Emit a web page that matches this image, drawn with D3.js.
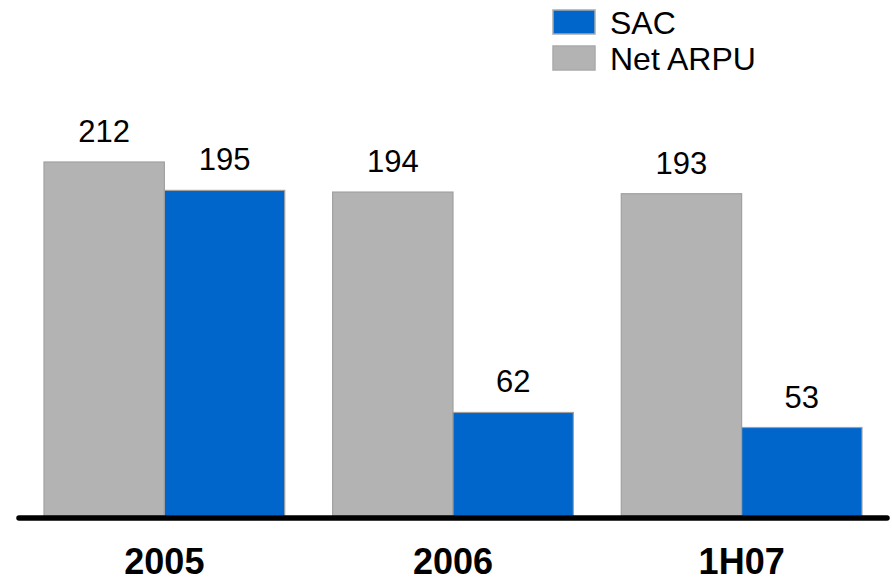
<!DOCTYPE html>
<html>
<head>
<meta charset="utf-8">
<script src="https://cdn.jsdelivr.net/npm/d3@7"></script>
<style>
  html, body { margin: 0; padding: 0; background: #fff; }
  svg { display: block; }
  text { font-family: "Liberation Sans", Arial, sans-serif; fill: #000; }
</style>
</head>
<body>
<svg id="chart" width="892" height="583"></svg>
<script>
// Periods on the x axis
const periods = ["2005", "2006", "1H07"];
// Series names (legend order, top to bottom)
const seriesNames = ["SAC", "Net ARPU"];
// Values per period
const netArpu = [212, 194, 193];
const sac = [195, 62, 53];

const colors = { "Net ARPU": "#b3b3b3", "SAC": "#0066cc" };

const svg = d3.select("#chart");

const x = d3.scaleBand()
  .domain(periods)
  .range([44, 862])
  .paddingInner(0.166)
  .paddingOuter(0);

// within a group: Net ARPU on the left, SAC on the right
const xs = d3.scaleBand()
  .domain(["Net ARPU", "SAC"])
  .range([0, x.bandwidth()])
  .padding(0);

const y = d3.scaleLinear()
  .domain([0, 212])
  .range([516, 162]);

const rows = periods.map((p, i) => ({
  period: p,
  bars: [
    { key: "Net ARPU", value: netArpu[i] },
    { key: "SAC", value: sac[i] }
  ]
}));

const groups = svg.append("g").selectAll("g")
  .data(rows)
  .join("g")
  .attr("transform", d => `translate(${x(d.period)},0)`);

groups.selectAll("rect")
  .data(d => d.bars)
  .join("rect")
  .attr("x", d => xs(d.key))
  .attr("y", d => y(d.value))
  .attr("width", xs.bandwidth())
  .attr("height", d => y(0) - y(d.value))
  .attr("fill", d => colors[d.key])
  .attr("stroke", "#a0a0a0")
  .attr("stroke-width", 1.2);

groups.selectAll("text.val")
  .data(d => d.bars)
  .join("text")
  .attr("class", "val")
  .attr("x", d => xs(d.key) + xs.bandwidth() / 2)
  .attr("y", d => y(d.value) - 20)
  .attr("text-anchor", "middle")
  .attr("font-size", 31)
  .text(d => d.value);

// baseline
svg.append("line")
  .attr("x1", 19).attr("x2", 887)
  .attr("y1", 518).attr("y2", 518)
  .attr("stroke", "#000")
  .attr("stroke-width", 5.5)
  .attr("stroke-linecap", "round");

// category labels
const xAxis = d3.axisBottom(x).tickSize(0).tickPadding(0);
const ax = svg.append("g")
  .attr("transform", "translate(0,574)")
  .call(xAxis);
ax.select(".domain").remove();
ax.selectAll("text")
  .attr("dy", 0)
  .attr("y", 0)
  .attr("font-size", 36)
  .attr("font-weight", "bold")
  .attr("font-family", "Liberation Sans, Arial, sans-serif")
  .attr("fill", "#000");

// legend
const legend = svg.append("g").selectAll("g")
  .data(seriesNames)
  .join("g")
  .attr("transform", (d, i) => `translate(553,${10 + i * 36})`);

legend.append("rect")
  .attr("width", 42)
  .attr("height", 24)
  .attr("fill", d => colors[d])
  .attr("stroke", "#aaaaaa")
  .attr("stroke-width", 1.5);

legend.append("text")
  .attr("x", 57)
  .attr("y", 24)
  .attr("font-size", 32)
  .text(d => d);
</script>
</body>
</html>
